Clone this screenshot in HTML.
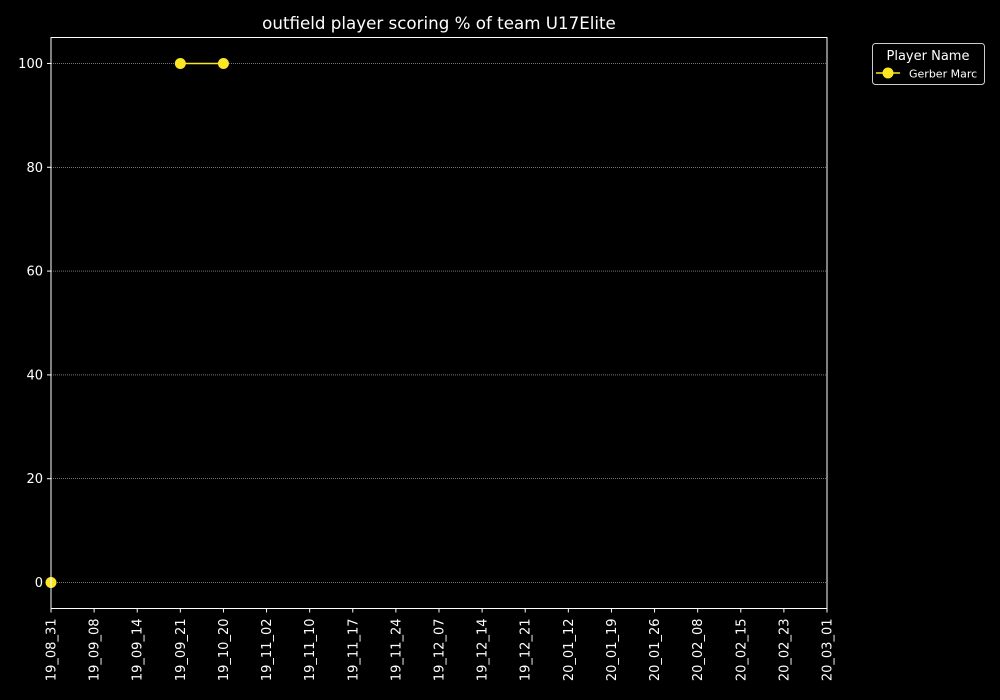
<!DOCTYPE html>
<html><head><meta charset="utf-8"><style>
body{margin:0;background:#000;}
svg{display:block;font-family:"DejaVu Sans","Liberation Sans",sans-serif;}
</style></head><body>
<svg id="chart" width="1000" height="700" viewBox="0 0 1000 700">
<rect width="1000" height="700" fill="#000"/>
<text x="439" y="29" fill="#fff" font-size="16.7" text-anchor="middle">outfield player scoring % of team U17Elite</text>
<g id="grid"></g><g id="axes"></g><g id="series"></g>
<rect x="51" y="37.5" width="776" height="571" fill="none" stroke="#fff" stroke-width="1"/>
<g>
<rect x="872.5" y="43.5" width="112" height="41" rx="3" fill="#000" stroke="#ccc"/>
<text x="928" y="60" fill="#fff" font-size="13" text-anchor="middle">Player Name</text>
<line x1="876" y1="73" x2="900" y2="73" stroke="#fde725" stroke-width="1.5"/>
<circle cx="888" cy="73" r="5.5" fill="#fde725"/>
<text x="909" y="77.5" fill="#fff" font-size="11">Gerber Marc</text>
</g>
</svg>
<script>
const categories=["19_08_31","19_09_08","19_09_14","19_09_21","19_10_20","19_11_02","19_11_10","19_11_17","19_11_24","19_12_07","19_12_14","19_12_21","20_01_12","20_01_19","20_01_26","20_02_08","20_02_15","20_02_23","20_03_01"];
const values=[0,null,null,100,100,null,null,null,null,null,null,null,null,null,null,null,null,null,null];
const yTicks=[0,20,40,60,80,100];
const NS="http://www.w3.org/2000/svg";
const L=51,R=827,T=37.5,B=608.5,yMin=-5,yMax=105;
function xs(i){return L+(R-L)*i/(categories.length-1);}
function ys(v){return B-(v-yMin)/(yMax-yMin)*(B-T);}
function mk(tag,attrs,parent){const e=document.createElementNS(NS,tag);for(const k in attrs)e.setAttribute(k,attrs[k]);parent.appendChild(e);return e;}
const grid=document.getElementById('grid'),axes=document.getElementById('axes'),ser=document.getElementById('series');
yTicks.forEach(v=>{
  const y=ys(v);
  const g=mk('line',{x1:L,x2:R,y1:y,y2:y,stroke:'#bbb','stroke-width':0.6,'stroke-dasharray':'1,1'},grid);
  
  
  const t=mk('line',{x1:L-4,x2:L,y1:y,y2:y,stroke:'#fff'},axes);
  
  
  const tx=mk('text',{x:L-8,y:y+4.5,fill:'#fff','font-size':13,'text-anchor':'end'},axes);
  tx.textContent=v;
  
  
});
categories.forEach((c,i)=>{
  const x=xs(i);
  const t=mk('line',{x1:x,x2:x,y1:B,y2:B+4,stroke:'#fff'},axes);
  
  
  const tx=mk('text',{x:0,y:0,fill:'#fff','font-size':13,'text-anchor':'end',transform:`translate(${x+4.5},${B+10}) rotate(-90)`},axes);
  tx.textContent=c;
  
  
});
for(let i=0;i<values.length-1;i++){
  if(values[i]!=null&&values[i+1]!=null){
    const l=mk('line',{x1:xs(i),y1:ys(values[i]),x2:xs(i+1),y2:ys(values[i+1]),stroke:'#fde725','stroke-width':1.5},ser);
    
    
  }
}
values.forEach((v,i)=>{
  if(v==null)return;
  const c=mk('circle',{cx:xs(i),cy:ys(v),r:5.5,fill:'#fde725'},ser);
  
  
});
</script>
</body></html>
